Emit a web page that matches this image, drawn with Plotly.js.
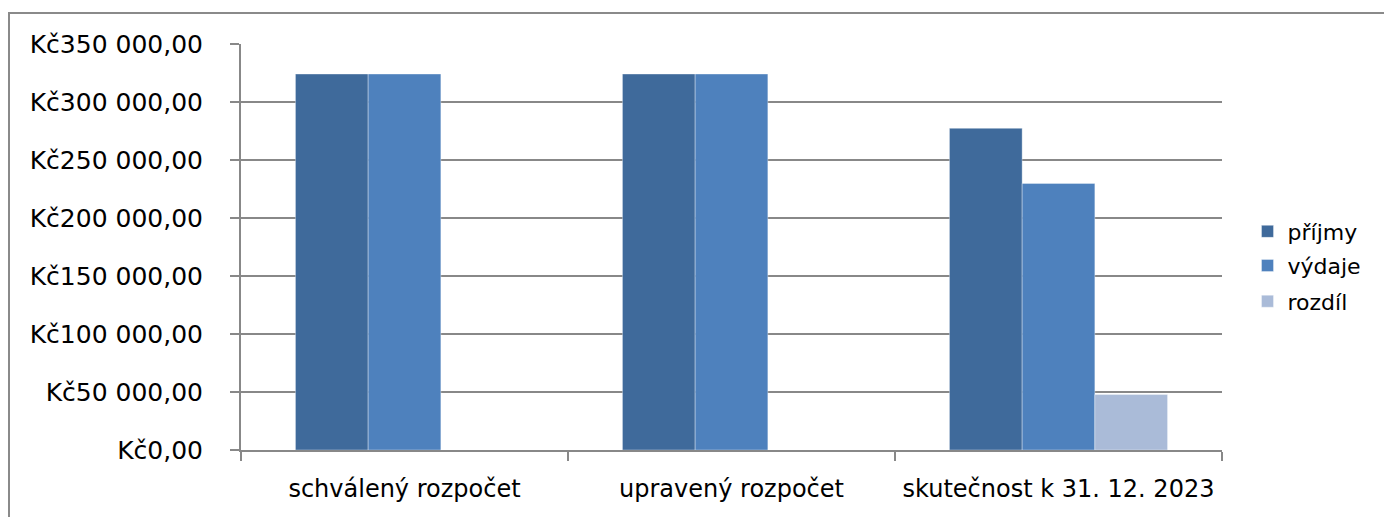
<!DOCTYPE html>
<html>
<head>
<meta charset="utf-8">
<script src="https://cdn.plot.ly/plotly-3.0.1.min.js"></script>
<style>
html,body{margin:0;padding:0;background:#fff;}
#wrap{position:relative;width:1384px;height:517px;overflow:hidden;}
#chart{position:absolute;left:0;top:0;width:1384px;height:517px;}
#frame{position:absolute;left:8px;top:12px;width:1400px;height:520px;border-left:2px solid #8a8a8a;border-top:2px solid #8a8a8a;pointer-events:none;}
</style>
</head>
<body>
<div id="wrap"><div id="chart"></div><div id="frame"></div></div>
<script>
const categories = ["schválený rozpočet", "upravený rozpočet", "skutečnost k 31. 12. 2023"];
const seriesNames = ["příjmy", "výdaje", "rozdíl"];
const prijmy = [324100, 324100, 277300];
const vydaje = [324100, 324100, 229800];
const rozdil = [0, 0, 47800];
const yTicks = [0, 50000, 100000, 150000, 200000, 250000, 300000, 350000];

function fmtCzk(v) {
  const parts = v.toFixed(2).split(".");
  const intPart = parts[0].replace(/\B(?=(\d{3})+(?!\d))/g, " ");
  return "Kč" + intPart + "," + parts[1];
}
const yTickText = yTicks.map(fmtCzk);

const colors = ["#3F6A9B", "#4E81BD", "#AABBD8"];
const values = [prijmy, vydaje, rozdil];
const FONT = "'DejaVu Sans', 'Comic Sans MS', sans-serif";
const legendKeys = ["legend", "legend2", "legend3"];
const legendY = [0.538, 0.454, 0.366];

const traces = values.map((v, i) => ({
  type: "bar",
  name: seriesNames[i],
  x: categories,
  y: v,
  legend: legendKeys[i],
  marker: {color: colors[i], line: {color: "rgba(255,255,255,0.35)", width: 1}},
  hoverinfo: "none"
}));

const layout = {
  width: 1384, height: 517,
  margin: {l: 241, r: 162, t: 44, b: 67, pad: 0},
  paper_bgcolor: "#fff", plot_bgcolor: "#fff",
  barmode: "group", bargap: 0.333, bargroupgap: 0,
  font: {family: FONT, color: "#000"},
  showlegend: true,
  xaxis: {
    type: "category", tickson: "boundaries", ticks: "outside", ticklen: 9, tickwidth: 2, tickcolor: "#888",
    showline: true, linecolor: "#888", linewidth: 2, showgrid: false,
    tickfont: {family: FONT, size: 24, color: "#000"}, ticklabelstandoff: 16
  },
  yaxis: {
    range: [0, 350000], tickmode: "array", tickvals: yTicks, ticktext: yTickText,
    ticks: "outside", ticklen: 9, tickwidth: 2, tickcolor: "#888",
    showline: true, linecolor: "#888", linewidth: 2,
    showgrid: true, gridcolor: "#888", gridwidth: 2, zeroline: false,
    tickfont: {family: FONT, size: 25, color: "#000"}, ticklabelstandoff: 22
  }
};
legendKeys.forEach((k, i) => {
  layout[k] = {x: 1.026, xanchor: "left", y: legendY[i], yanchor: "middle",
    font: {family: FONT, size: 22, color: "#000"}, bgcolor: "rgba(0,0,0,0)"};
});

Plotly.newPlot("chart", traces, layout, {displayModeBar: false, staticPlot: true});
</script>
</body>
</html>
